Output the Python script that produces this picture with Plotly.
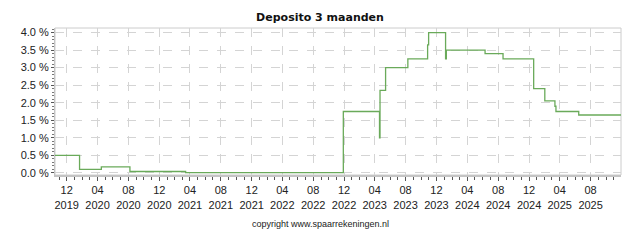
import plotly.graph_objects as go

dates = ["2019-10-01", "2020-01-21", "2020-04-16", "2020-08-07", "2021-03-15",
         "2022-11-28", "2023-04-20", "2023-04-22", "2023-05-14", "2023-08-10",
         "2023-10-27", "2023-10-31", "2024-01-06", "2024-01-09", "2024-06-10",
         "2024-08-20", "2024-12-19", "2025-02-01", "2025-03-13", "2025-03-17",
         "2025-06-15", "2025-12-31"]
rates = [0.50, 0.10, 0.17, 0.04, 0.01,
         1.75, 1.00, 2.35, 3.00, 3.25,
         3.65, 4.00, 3.25, 3.50, 3.40,
         3.25, 2.40, 2.05, 1.90, 1.75,
         1.65, 1.65]

title_text = "Deposito 3 maanden"
copyright_text = "copyright www.spaarrekeningen.nl"

fig = go.Figure()
fig.add_trace(go.Scatter(x=dates, y=rates, mode="lines", line_shape="hv",
                         line=dict(color="#6aaa5a", width=1.3), hoverinfo="skip"))

fig.update_layout(
    width=640, height=240,
    margin=dict(l=55, r=19, t=28, b=65),
    paper_bgcolor="white", plot_bgcolor="white",
    showlegend=False,
    title=dict(text="<b>" + title_text + "</b>", x=0.5, xanchor="center",
               y=1 - 17 / 240, yanchor="middle", yref="container",
               font=dict(family="DejaVu Sans", size=11, color="#111111")),
    font=dict(family="Liberation Sans", size=11, color="#222222"),
    annotations=[dict(text=copyright_text, x=(320 - 55) / 566, xref="paper", xanchor="center",
                      y=(175 - 224) / 147, yref="paper", yanchor="middle",
                      showarrow=False,
                      font=dict(family="Liberation Sans", size=9, color="#222222"))],
)

fig.update_xaxes(
    type="date",
    range=["2019-10-16", "2025-11-29"],
    tick0="2019-12-01", dtick="M4", tickformat="%m<br>%Y",
    ticks="outside", ticklen=4, tickcolor="#555555",
    showgrid=True, gridcolor="#d4d4d4", griddash="dash", gridwidth=1,
    showline=True, linecolor="#c4c4c4", linewidth=2, mirror=False,
    minor=dict(dtick="M1", tick0="2019-12-01", ticks="outside", ticklen=3,
               tickcolor="#555555", showgrid=False),
    tickfont=dict(family="Liberation Sans", size=11, color="#222222"),
    zeroline=False,
)
fig.update_yaxes(
    range=[-0.06, 4.13],
    tick0=0, dtick=0.5, tickformat=".1f", ticksuffix=" %",
    ticks="outside", ticklen=3, tickcolor="#555555",
    showgrid=True, gridcolor="#d4d4d4", griddash="dash", gridwidth=1,
    showline=True, linecolor="#c4c4c4", linewidth=1, mirror=False,
    minor=dict(dtick=0.1, ticks="outside", ticklen=2, tickcolor="#777777",
               showgrid=False),
    tickfont=dict(family="Liberation Sans", size=11, color="#222222"),
    zeroline=False,
)

# light frame on top and right
fig.add_shape(type="rect", xref="paper", yref="paper", x0=0, y0=0, x1=1, y1=1,
              line=dict(color="#cccccc", width=1), fillcolor="rgba(0,0,0,0)", layer="below")

fig.write_html("out.html")
